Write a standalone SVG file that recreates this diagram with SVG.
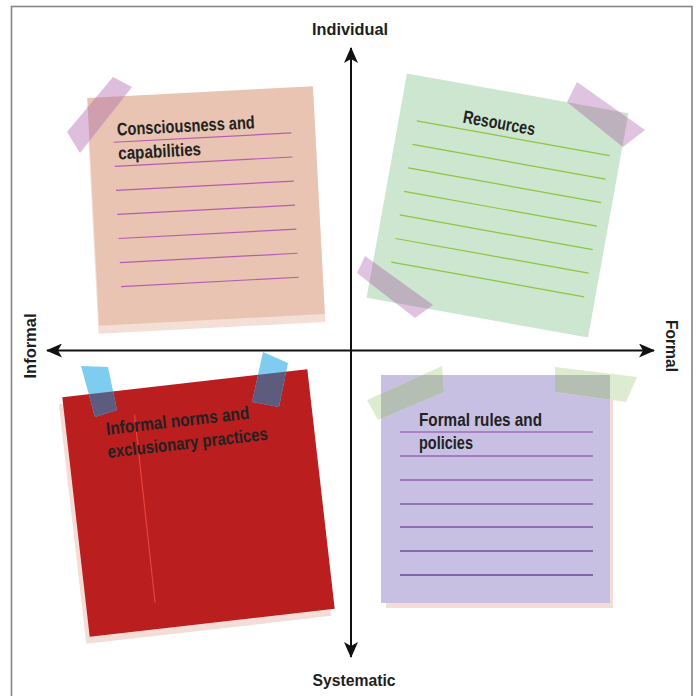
<svg xmlns="http://www.w3.org/2000/svg" width="696" height="696" viewBox="0 0 696 696">
  <style>
    .lbl { font-family: "Liberation Sans", Arial, sans-serif; font-weight: bold; font-size: 17px; fill: #1e1e1e; }
    .note-text { font-family: "Liberation Sans", Arial, sans-serif; font-weight: bold; font-size: 18px; fill: #222222; }
    .axis { stroke: #111111; stroke-width: 2; fill: none; }
    .pink-line { stroke: #b35db2; stroke-width: 1.2; }
    .green-line { stroke: #8cc63f; stroke-width: 1.2; }
    .purple-line { stroke-width: 1.4; }
  </style>
  <defs>
    <marker id="arrow" viewBox="0 0 16 14" refX="15" refY="7" markerWidth="16" markerHeight="14" markerUnits="userSpaceOnUse" orient="auto-start-reverse">
      <path d="M0,0 L16,7 L0,14 L4,7 Z" fill="#111111"/>
    </marker>
    <clipPath id="clip-pink">
      <rect x="93" y="92" width="226" height="228" transform="rotate(-3 206 206)"/>
    </clipPath>
    <clipPath id="clip-green">
      <rect x="385" y="91.5" width="225" height="228" transform="rotate(10.2 497.5 205.5)"/>
    </clipPath>
    <clipPath id="clip-red">
      <rect x="75.2" y="382.4" width="246.6" height="241.2" transform="rotate(-6.52 198.5 503)"/>
    </clipPath>
    <clipPath id="clip-purple">
      <rect x="381" y="375" width="229" height="228"/>
    </clipPath>
  </defs>

  <!-- outer frame -->
  <rect x="11.5" y="6.5" width="680.5" height="700" fill="#ffffff" stroke="#858585" stroke-width="1.6"/>

  <!-- top-left note -->
  <g id="note-consciousness">
    <g transform="rotate(-3 206 206)">
      <rect x="92" y="100" width="227" height="228" fill="#f4dfd6"/>
      <rect x="93" y="92" width="226" height="228" fill="#e9c4b2"/>
      <g class="pink-line">
        <line x1="117" y1="137.5" x2="295" y2="137.5"/>
        <line x1="117" y1="161.6" x2="295" y2="161.6"/>
        <line x1="117" y1="185.7" x2="295" y2="185.7"/>
        <line x1="117" y1="209.8" x2="295" y2="209.8"/>
        <line x1="117" y1="233.9" x2="295" y2="233.9"/>
        <line x1="117" y1="258" x2="295" y2="258"/>
        <line x1="117" y1="282" x2="295" y2="282"/>
      </g>
      <text class="note-text" x="121" y="131" textLength="138" lengthAdjust="spacingAndGlyphs">Consciousness and</text>
      <text class="note-text" x="121" y="155" textLength="83" lengthAdjust="spacingAndGlyphs">capabilities</text>
    </g>
    <polygon points="113,77 132,87 80,153 67,132" fill="#dfbedd"/>
    <polygon points="113,77 132,87 80,153 67,132" fill="#cf9fae" clip-path="url(#clip-pink)"/>
  </g>

  <!-- top-right note -->
  <g id="note-resources">
    <g transform="rotate(10.2 497.5 205.5)">
      <rect x="385" y="91.5" width="225" height="228" fill="#cde6d0"/>
      <g class="green-line">
        <line x1="403" y1="136.5" x2="599" y2="136.5"/>
        <line x1="403" y1="160.4" x2="599" y2="160.4"/>
        <line x1="403" y1="184.3" x2="599" y2="184.3"/>
        <line x1="403" y1="208.2" x2="599" y2="208.2"/>
        <line x1="403" y1="232.1" x2="599" y2="232.1"/>
        <line x1="403" y1="256" x2="599" y2="256"/>
        <line x1="403" y1="280" x2="599" y2="280"/>
      </g>
      <text class="note-text" x="448" y="130" textLength="73" lengthAdjust="spacingAndGlyphs">Resources</text>
    </g>
    <polygon points="577,82 645,130 623,147 567,102" fill="#e0c3e0"/>
    <polygon points="577,82 645,130 623,147 567,102" fill="#bdb1bd" clip-path="url(#clip-green)"/>
    <polygon points="365,256 433,305 415,318 357,273" fill="#e0c3e0"/>
    <polygon points="365,256 433,305 415,318 357,273" fill="#bdb1bd" clip-path="url(#clip-green)"/>
  </g>

  <!-- bottom-left note -->
  <g id="note-informal-norms">
    <g transform="rotate(-6.52 198.5 503)">
      <rect x="71" y="389" width="246.6" height="241.2" fill="#f4ddd6"/>
      <rect x="75.2" y="382.4" width="246.6" height="241.2" fill="#bb1e1f"/>
      <line x1="145" y1="408" x2="144" y2="597" stroke="#e8423c" stroke-width="1.2"/>
      <text class="note-text" x="115" y="425" textLength="144" lengthAdjust="spacingAndGlyphs">Informal norms and</text>
      <text class="note-text" x="114" y="448" textLength="161" lengthAdjust="spacingAndGlyphs">exclusionary practices</text>
    </g>
    <polygon points="81,366 108,367 117,410 95,417" fill="#7ecdf0"/>
    <polygon points="81,366 108,367 117,410 95,417" fill="#5d5c7e" clip-path="url(#clip-red)"/>
    <polygon points="263,352 288,363 279,407 252,402" fill="#7ecdf0"/>
    <polygon points="263,352 288,363 279,407 252,402" fill="#5d5c7e" clip-path="url(#clip-red)"/>
  </g>

  <!-- bottom-right note -->
  <g id="note-formal-rules">
    <rect x="386" y="380" width="227" height="228" fill="#f4ddd6"/>
    <rect x="381" y="375" width="229" height="228" fill="#c8c0e2"/>
    <g class="purple-line">
      <line x1="400" y1="432" x2="593" y2="432" stroke="#a06cba"/>
      <line x1="400" y1="456" x2="593" y2="456" stroke="#9a66b5"/>
      <line x1="400" y1="480" x2="593" y2="480" stroke="#9060ae"/>
      <line x1="400" y1="504" x2="593" y2="504" stroke="#855aa6"/>
      <line x1="400" y1="527" x2="593" y2="527" stroke="#7a549f"/>
      <line x1="400" y1="551" x2="593" y2="551" stroke="#714e99"/>
      <line x1="400" y1="575" x2="593" y2="575" stroke="#684893"/>
    </g>
    <text class="note-text" x="419" y="426" textLength="123" lengthAdjust="spacingAndGlyphs">Formal rules and</text>
    <text class="note-text" x="419" y="449" textLength="54" lengthAdjust="spacingAndGlyphs">policies</text>
    <polygon points="367,400 442,366 444,392 378,420" fill="#ddecd1"/>
    <polygon points="367,400 442,366 444,392 378,420" fill="#b5beb2" clip-path="url(#clip-purple)"/>
    <polygon points="555,367 637,377 626,402 555,392" fill="#ddecd1"/>
    <polygon points="555,367 637,377 626,402 555,392" fill="#b5beb2" clip-path="url(#clip-purple)"/>
  </g>

  <!-- axes -->
  <g id="connectors">
    <line class="axis" x1="351" y1="657" x2="351" y2="48" marker-start="url(#arrow)" marker-end="url(#arrow)"/>
    <line class="axis" x1="47" y1="350.5" x2="654" y2="350.5" marker-start="url(#arrow)" marker-end="url(#arrow)"/>
  </g>

  <!-- axis labels -->
  <g id="axis-labels">
    <text class="lbl" x="350" y="35" text-anchor="middle" textLength="76" lengthAdjust="spacingAndGlyphs">Individual</text>
    <text class="lbl" x="354" y="686" text-anchor="middle" textLength="83" lengthAdjust="spacingAndGlyphs">Systematic</text>
    <text class="lbl" transform="translate(36 346) rotate(-90)" text-anchor="middle" textLength="65" lengthAdjust="spacingAndGlyphs">Informal</text>
    <text class="lbl" transform="translate(666 346) rotate(90)" text-anchor="middle" textLength="52" lengthAdjust="spacingAndGlyphs">Formal</text>
  </g>
</svg>
